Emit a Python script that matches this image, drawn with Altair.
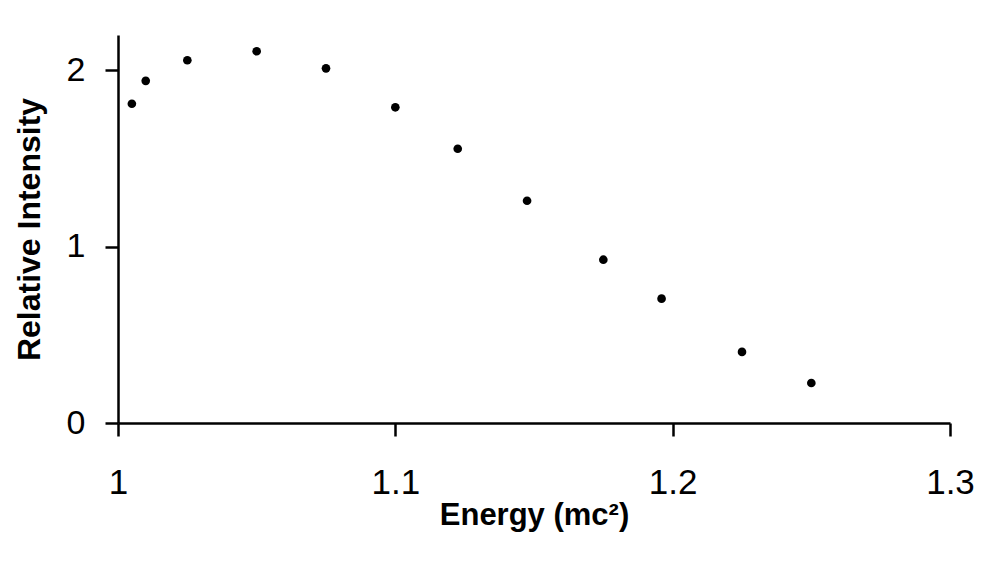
import altair as alt
import pandas as pd

energy = [1.005, 1.01, 1.025, 1.05, 1.075, 1.1, 1.1225, 1.1475, 1.175, 1.196, 1.225, 1.25]
intensity = [1.81, 1.94, 2.057, 2.108, 2.011, 1.79, 1.555, 1.26, 0.926, 0.705, 0.403, 0.227]

df = pd.DataFrame({"energy": energy, "intensity": intensity})

FONT = "Liberation Sans"

chart = alt.Chart(df).mark_circle(size=75, color="black", opacity=1).encode(
    x=alt.X(
        "energy:Q",
        scale=alt.Scale(domain=[1, 1.3], nice=False, zero=False),
        axis=alt.Axis(
            title="Energy (mc²)",
            values=[1, 1.1, 1.2, 1.3],
            format=".1~f",
            grid=False,
            domainColor="black",
            domainWidth=2.5,
            tickColor="black",
            tickWidth=2.5,
            tickSize=13,
            labelFont=FONT,
            labelFontSize=35,
            labelColor="black",
            labelPadding=29,
            labelFlush=False,
            titleFont=FONT,
            titleFontSize=31,
            titleFontWeight="bold",
            titleColor="black",
            titlePadding=0,
        ),
    ),
    y=alt.Y(
        "intensity:Q",
        scale=alt.Scale(domain=[0, 2.2], nice=False),
        axis=alt.Axis(
            title="Relative Intensity",
            values=[0, 1, 2],
            grid=False,
            domainColor="black",
            domainWidth=2.5,
            tickColor="black",
            tickWidth=2.5,
            tickSize=13,
            labelFont=FONT,
            labelFontSize=34,
            labelColor="black",
            labelPadding=20,
            labelFlush=False,
            titleFont=FONT,
            titleFontSize=32,
            titleFontWeight="bold",
            titleColor="black",
            titlePadding=20,
        ),
    ),
).properties(
    width=832,
    height=388,
    autosize=alt.AutoSizeParams(type="none"),
    padding={"left": 110, "top": 27, "right": 24, "bottom": 130},
).configure_view(stroke=None)

chart.save("out.html", embed_options={"renderer": "svg", "actions": False})
